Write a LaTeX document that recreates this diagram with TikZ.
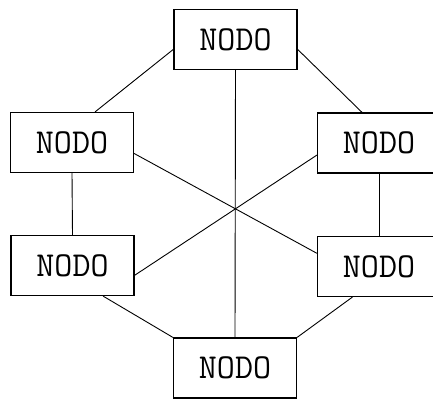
\documentclass[tikz,border=0pt]{standalone}
\usetikzlibrary{positioning}
\tikzset{
    nodo/.style = {rectangle, draw=black, line width=1.2pt, minimum width=123pt, minimum height=60pt, inner sep=0pt, font=\ttfamily\fontsize{35}{35}\selectfont},
    enlace/.style = {draw=black, line width=0.9pt},
}
\begin{document}
\begin{tikzpicture}[x=1pt,y=-1pt]
\clip (0,0) rectangle (433,400);
%
\node[nodo] at (235.5, 39.5) (sup) {NODO};
\node[nodo] at (72, 142.5) (izqa) {NODO};
\node[nodo] at (379, 143) (dera) {NODO};
\node[nodo] at (72.5, 265.5) (izqb) {NODO};
\node[nodo] at (379, 266.5) (derb) {NODO};
\node[nodo] at (235, 368) (inf) {NODO};
%
\draw[enlace] (sup.south) -- (inf.north);
\draw[enlace] (sup.189) -- (izqa.53);
\draw[enlace] (sup.351) -- (dera.119);
\draw[enlace] (izqa.south) -- (izqb.north);
\draw[enlace] (dera.south) -- (derb.north);
\draw[enlace] (izqa.350) -- (derb.168);
\draw[enlace] (dera.191) -- (izqb.351);
\draw[enlace] (izqb.315) -- (inf.north west);
\draw[enlace] (derb.229) -- (inf.north east);
\end{tikzpicture}
\end{document}
